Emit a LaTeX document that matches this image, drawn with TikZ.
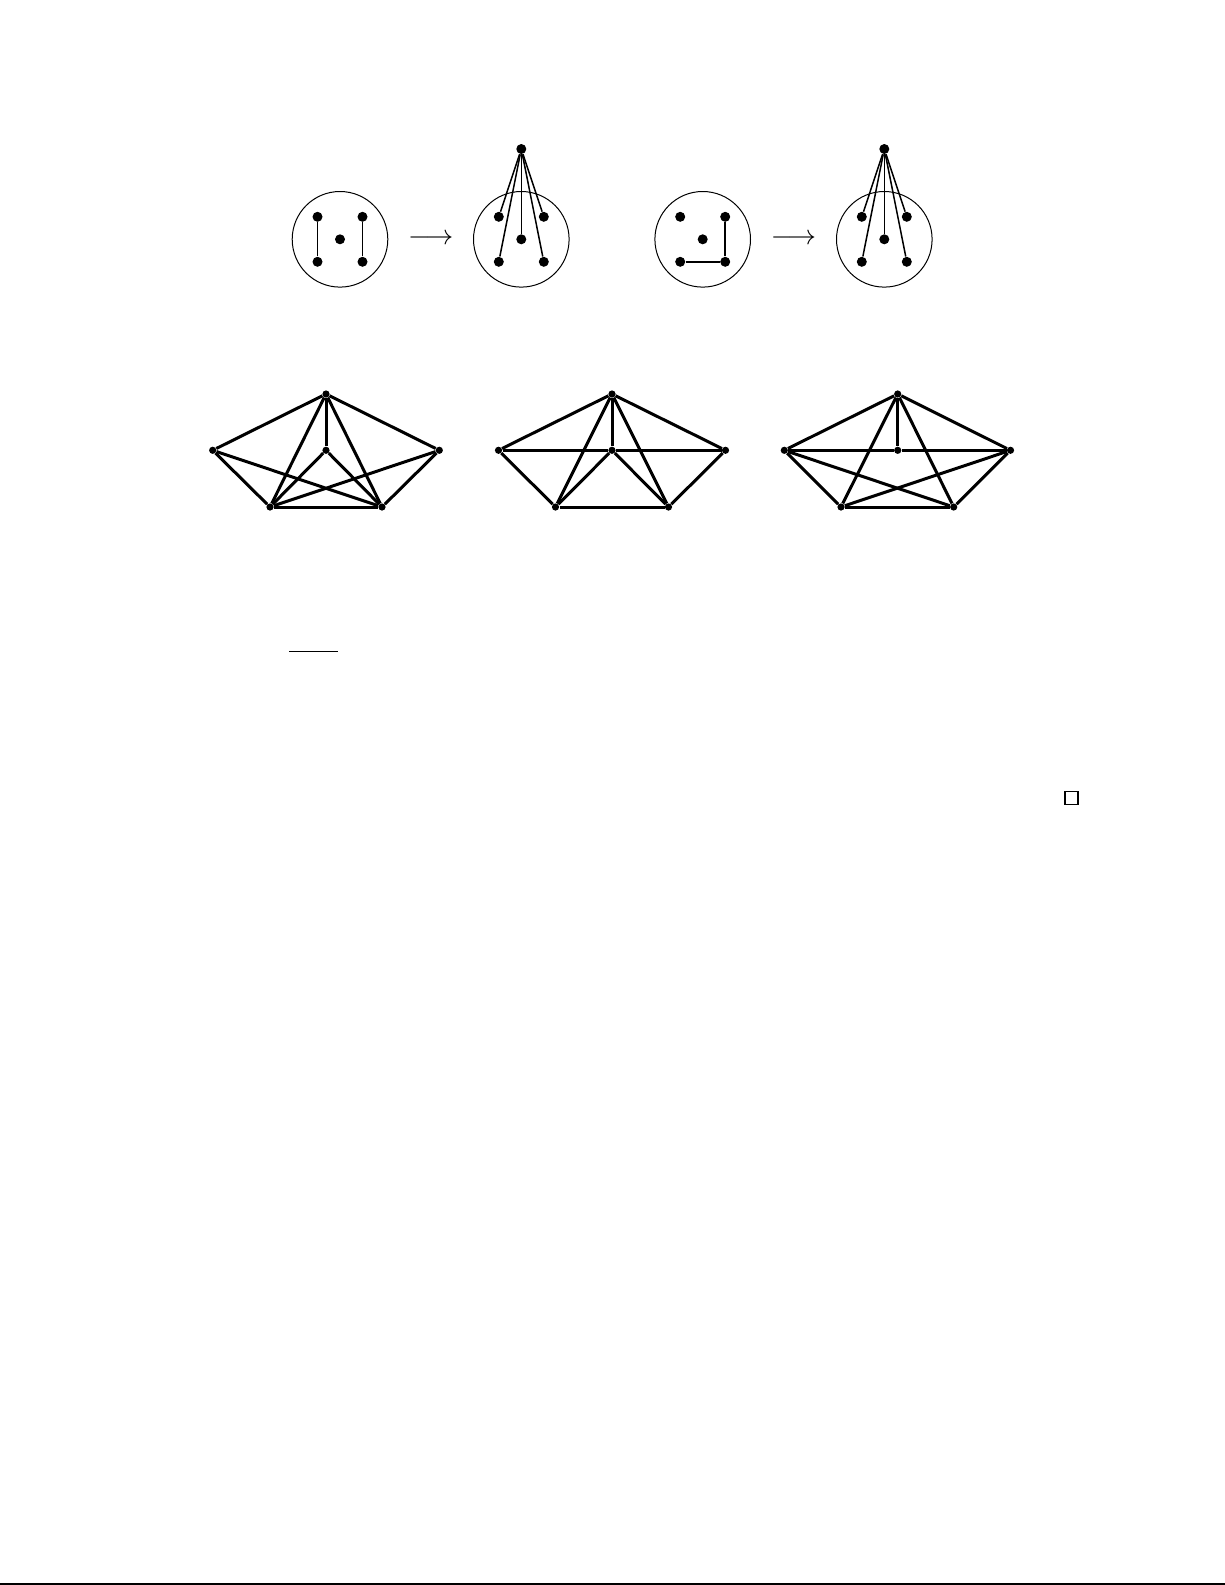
\documentclass[tikz,border=0pt]{standalone}
\begin{document}
\def\DOTCOLOR{black}
\def\LINECOLOR{black}

\begin{tikzpicture}[x=0.5pt,y=-0.5pt,
	bigdot/.style={circle,fill=\DOTCOLOR,inner sep=0pt,minimum size=5pt},
	smalldot/.style={circle,fill=\DOTCOLOR,inner sep=0pt,minimum size=3.6pt},
	ring/.style={circle,draw=\LINECOLOR,line width=0.5pt,inner sep=0pt,minimum size=47.8pt},
	mapsto/.style={scale=1.4,inner sep=0pt},
	thinedge/.style={draw=\LINECOLOR,line width=0.75pt},
	thickedge/.style={draw=\LINECOLOR,line width=1.5pt}]

	\useasboundingbox (0,0) rectangle (1225,1585);

	\node[ring] (ringA) at (340,239.3) {};
	\node[bigdot] (a1) at (317.5,216.8) {};
	\node[bigdot] (a2) at (362.5,216.8) {};
	\node[bigdot] (a3) at (340,239.3) {};
	\node[bigdot] (a4) at (317.5,261.8) {};
	\node[bigdot] (a5) at (362.5,261.8) {};
	\draw[thinedge] (a1) -- (a4);
	\draw[thinedge] (a2) -- (a5);

	\node[mapsto] (arrA) at (430.8,239.3) {$\longrightarrow$};

	\node[ring] (ringB) at (521.3,239.3) {};
	\node[bigdot] (b0) at (521.3,149) {};
	\node[bigdot] (b1) at (498.8,216.8) {};
	\node[bigdot] (b2) at (543.8,216.8) {};
	\node[bigdot] (b3) at (521.3,239.3) {};
	\node[bigdot] (b4) at (498.8,261.8) {};
	\node[bigdot] (b5) at (543.8,261.8) {};
	\draw[thinedge] (b0) -- (b1);
	\draw[thinedge] (b0) -- (b2);
	\draw[thinedge] (b0) -- (b3);
	\draw[thinedge] (b0) -- (b4);
	\draw[thinedge] (b0) -- (b5);

	\node[ring] (ringC) at (702.7,239.3) {};
	\node[bigdot] (c1) at (680.2,216.8) {};
	\node[bigdot] (c2) at (725.2,216.8) {};
	\node[bigdot] (c3) at (702.7,239.3) {};
	\node[bigdot] (c4) at (680.2,261.8) {};
	\node[bigdot] (c5) at (725.2,261.8) {};
	\draw[thinedge] (c4) -- (c5);
	\draw[thinedge] (c5) -- (c2);

	\node[mapsto] (arrC) at (793.5,239.3) {$\longrightarrow$};

	\node[ring] (ringD) at (884.3,239.3) {};
	\node[bigdot] (d0) at (884.3,149) {};
	\node[bigdot] (d1) at (861.8,216.8) {};
	\node[bigdot] (d2) at (906.8,216.8) {};
	\node[bigdot] (d3) at (884.3,239.3) {};
	\node[bigdot] (d4) at (861.8,261.8) {};
	\node[bigdot] (d5) at (906.8,261.8) {};
	\draw[thinedge] (d0) -- (d1);
	\draw[thinedge] (d0) -- (d2);
	\draw[thinedge] (d0) -- (d3);
	\draw[thinedge] (d0) -- (d4);
	\draw[thinedge] (d0) -- (d5);

	\node[smalldot] (gAtop) at (326,394) {};
	\node[smalldot] (gAmid) at (326,450.3) {};
	\node[smalldot] (gAleft) at (212.7,450.3) {};
	\node[smalldot] (gAright) at (439.3,450.3) {};
	\node[smalldot] (gAbl) at (270,507) {};
	\node[smalldot] (gAbr) at (382,507) {};
	\draw[thickedge] (gAtop) -- (gAleft);
	\draw[thickedge] (gAtop) -- (gAright);
	\draw[thickedge] (gAtop) -- (gAmid);
	\draw[thickedge] (gAtop) -- (gAbl);
	\draw[thickedge] (gAtop) -- (gAbr);
	\draw[thickedge] (gAleft) -- (gAbl);
	\draw[thickedge] (gAleft) -- (gAbr);
	\draw[thickedge] (gAright) -- (gAbl);
	\draw[thickedge] (gAright) -- (gAbr);
	\draw[thickedge] (gAmid) -- (gAbl);
	\draw[thickedge] (gAmid) -- (gAbr);
	\draw[thickedge] (gAbl) -- (gAbr);

	\node[smalldot] (gBtop) at (612,394) {};
	\node[smalldot] (gBmid) at (612,450.3) {};
	\node[smalldot] (gBleft) at (498.5,450.3) {};
	\node[smalldot] (gBright) at (725.5,450.3) {};
	\node[smalldot] (gBbl) at (555.5,507) {};
	\node[smalldot] (gBbr) at (668.5,507) {};
	\draw[thickedge] (gBtop) -- (gBleft);
	\draw[thickedge] (gBtop) -- (gBright);
	\draw[thickedge] (gBtop) -- (gBmid);
	\draw[thickedge] (gBtop) -- (gBbl);
	\draw[thickedge] (gBtop) -- (gBbr);
	\draw[thickedge] (gBleft) -- (gBmid);
	\draw[thickedge] (gBmid) -- (gBright);
	\draw[thickedge] (gBleft) -- (gBbl);
	\draw[thickedge] (gBright) -- (gBbr);
	\draw[thickedge] (gBmid) -- (gBbl);
	\draw[thickedge] (gBmid) -- (gBbr);
	\draw[thickedge] (gBbl) -- (gBbr);

	\node[smalldot] (gCtop) at (897.7,394) {};
	\node[smalldot] (gCmid) at (897.7,450.3) {};
	\node[smalldot] (gCleft) at (784.3,450.3) {};
	\node[smalldot] (gCright) at (1010.5,450.3) {};
	\node[smalldot] (gCbl) at (841,507) {};
	\node[smalldot] (gCbr) at (953.7,507) {};
	\draw[thickedge] (gCtop) -- (gCleft);
	\draw[thickedge] (gCtop) -- (gCright);
	\draw[thickedge] (gCtop) -- (gCmid);
	\draw[thickedge] (gCtop) -- (gCbl);
	\draw[thickedge] (gCtop) -- (gCbr);
	\draw[thickedge] (gCleft) -- (gCmid);
	\draw[thickedge] (gCmid) -- (gCright);
	\draw[thickedge] (gCleft) -- (gCbl);
	\draw[thickedge] (gCleft) -- (gCbr);
	\draw[thickedge] (gCright) -- (gCbl);
	\draw[thickedge] (gCright) -- (gCbr);
	\draw[thickedge] (gCbl) -- (gCbr);

	\draw[line width=0.5pt] (289,651.3) -- (337.7,651.3);
	\draw[line width=0.65pt] (1065,791.7) rectangle (1078,804.6);
	\draw[line width=0.65pt] (0,1584) -- (1225,1584);

      \end{tikzpicture}
\end{document}
